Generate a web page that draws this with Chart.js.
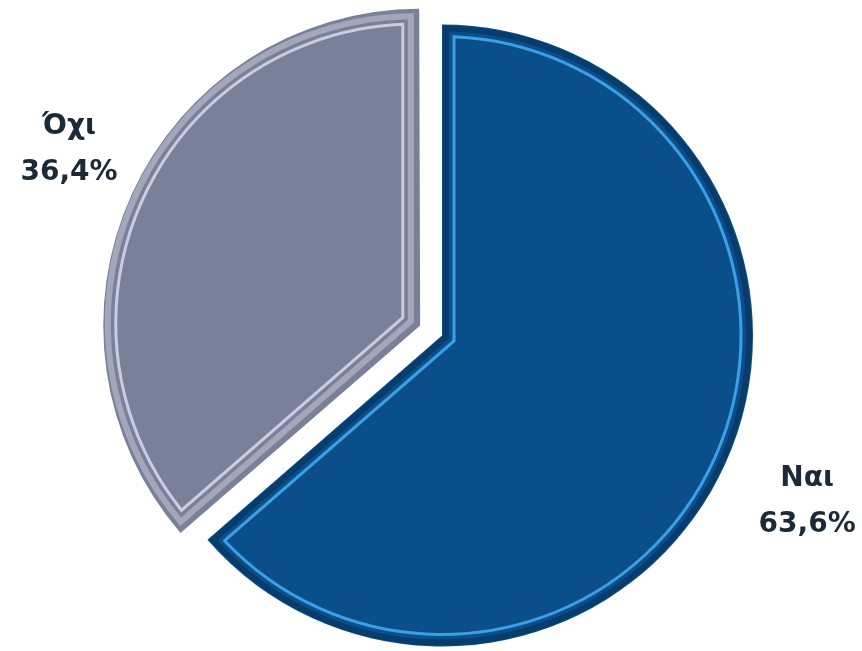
<!DOCTYPE html>
<html>
<head>
<meta charset="utf-8">
<script src="https://cdn.jsdelivr.net/npm/chart.js@4"></script>
<style>
  html, body { margin: 0; padding: 0; background: #fff; }
  #wrap { width: 862px; height: 651px; }
</style>
</head>
<body>
<div id="wrap"><canvas id="chart"></canvas></div>
<script>
const categories = ["Ναι", "Όχι"];
const values = [63.6, 36.4];
const valueLabels = ["63,6%", "36,4%"];

const fills = ["#0b4f8a", "#7a8097"];
const rims = ["#083c6c", "#a2a7bb"];
const highlights = ["#3d9fe6", "#c9cce6"];

// arc.draw shifts by offset/4 * (2 - sin(min(PI, circumference)))
function arcShift(arc) {
  const off = (arc.options.offset || 0) / 4;
  const fix = 1 - Math.sin(Math.min(Math.PI, arc.circumference));
  const mid = (arc.startAngle + arc.endAngle) / 2;
  const d = off + off * fix;
  return { x: arc.x + Math.cos(mid) * d, y: arc.y + Math.sin(mid) * d, mid };
}

function insetPath(ctx, cx, cy, r, start, end, t) {
  const half = (end - start) / 2;
  const mid = start + half;
  const dv = t / Math.sin(half);
  const rr = r - t;
  const delta = Math.asin(t / rr);
  ctx.beginPath();
  ctx.moveTo(cx + Math.cos(mid) * dv, cy + Math.sin(mid) * dv);
  ctx.arc(cx, cy, rr, start + delta, end - delta);
  ctx.closePath();
}

const bevel = {
  id: "bevel",
  afterDatasetsDraw(chart) {
    const ctx = chart.ctx;
    const arcs = chart.getDatasetMeta(0).data;
    arcs.forEach((arc, i) => {
      const c = arcShift(arc);
      const r = arc.outerRadius;
      ctx.save();
      ctx.lineJoin = "miter";
      ctx.strokeStyle = rims[i];
      ctx.lineWidth = 6;
      insetPath(ctx, c.x, c.y, r, arc.startAngle, arc.endAngle, 4);
      ctx.stroke();
      ctx.strokeStyle = highlights[i];
      ctx.lineWidth = 3;
      insetPath(ctx, c.x, c.y, r, arc.startAngle, arc.endAngle, 12);
      ctx.stroke();
      ctx.restore();
    });
  }
};

const sliceLabels = {
  id: "sliceLabels",
  afterDraw(chart) {
    const ctx = chart.ctx;
    const arcs = chart.getDatasetMeta(0).data;
    const factors = [1.29, 1.25];
    const nudge = [[0, 0], [8, -12]];
    ctx.save();
    ctx.font = "bold 28px 'DejaVu Sans'";
    ctx.fillStyle = "#1c2a38";
    ctx.textAlign = "center";
    ctx.textBaseline = "middle";
    arcs.forEach((arc, i) => {
      const c = arcShift(arc);
      const d = arc.outerRadius * factors[i];
      const x = c.x + Math.cos(c.mid) * d + nudge[i][0];
      const y = c.y + Math.sin(c.mid) * d + nudge[i][1];
      ctx.fillText(categories[i], x, y - 23);
      ctx.fillText(valueLabels[i], x, y + 23);
    });
    ctx.restore();
  }
};

new Chart(document.getElementById("chart"), {
  type: "pie",
  data: {
    labels: categories,
    datasets: [{
      data: values,
      backgroundColor: fills,
      borderWidth: 0,
      offset: [0, 96]
    }]
  },
  options: {
    responsive: true,
    maintainAspectRatio: false,
    animation: false,
    radius: 311,
    layout: { padding: { left: 22, right: 0, top: 20, bottom: 0 } },
    plugins: {
      legend: { display: false },
      tooltip: { enabled: false }
    }
  },
  plugins: [bevel, sliceLabels]
});
</script>
</body>
</html>
